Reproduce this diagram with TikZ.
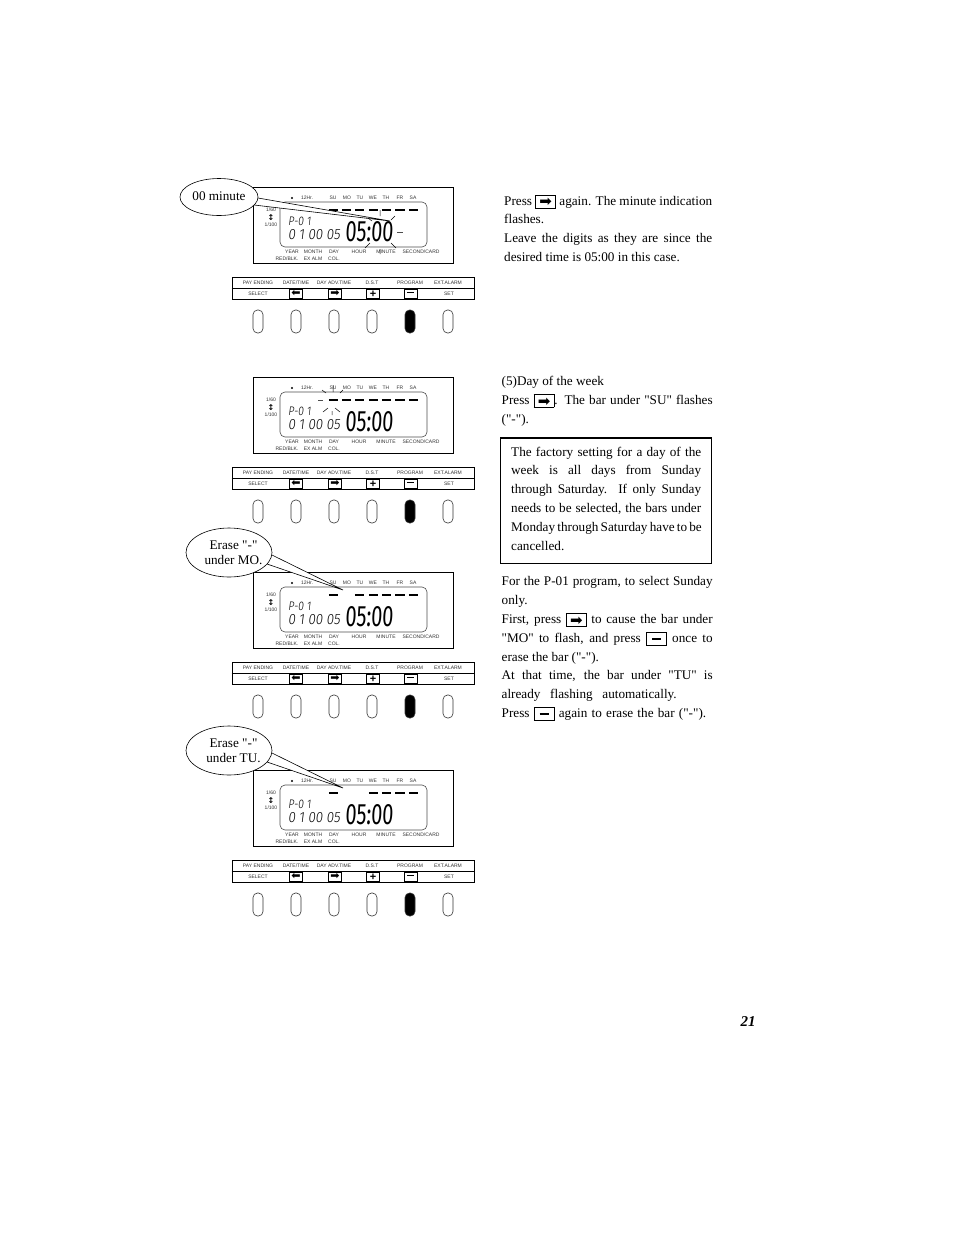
\documentclass[tikz,border=0pt]{standalone}
\usepackage{fontspec}
\usepackage{graphicx}
\usetikzlibrary{positioning}
\usetikzlibrary{shapes.geometric}
\newfontfamily\pagefont{Liberation Serif}
\newfontfamily\labelfont{Liberation Sans}
\newfontfamily\glyphfont{DejaVu Sans}
\newfontfamily\lcdfont{Fira Sans}[UprightFont=* Light,FakeSlant=0.14]
\newfontfamily\lcdbig{Fira Sans}[FakeSlant=0.08]
\tikzset{
	tinylabel/.style={inner sep=0,text=black!80,font=\labelfont\fontsize{5}{5}\selectfont},
	daybar/.style={line width=2.8pt},
	flashtick/.style={line width=.5pt},
	lcdbox/.style={draw,line width=.9pt,minimum width=200,minimum height=76.5,inner sep=0},
	lcdglass/.style={draw,black!70,line width=.6pt,rounded corners=5pt,minimum width=147,minimum height=45,inner sep=0},
	stripbox/.style={draw,line width=.9pt,minimum width=242,minimum height=22.5,inner sep=0},
	keybox/.style={draw,line width=1pt,minimum width=13,minimum height=9,inner sep=0,font=\glyphfont\fontsize{11}{11}\selectfont},
	pushkey/.style={draw,black!80,line width=.6pt,rounded corners=4.5pt,minimum width=10,minimum height=23,inner sep=0},
	bubble/.style={draw,ellipse,fill=white,line width=.6pt,inner sep=0},
	bubbletext/.style={inner sep=0,align=center,font=\pagefont\fontsize{13.2}{15}\selectfont},
	pagetext/.style={inner sep=0,align=justify,font=\pagefont\fontsize{13.2}{18.8}\selectfont},
}
\newcommand{\rightglyph}{\raisebox{.8pt}{\symbol{"27A1}}}
\newcommand{\leftglyph}{\raisebox{.8pt}{\symbol{"2B05}}}
\newcommand{\minusglyph}{\rule[5.3pt]{9pt}{1.5pt}}
\newcommand{\keytag}[1]{\raisebox{-2.6pt}{\setlength\fboxsep{0pt}\setlength\fboxrule{.9pt}\fbox{\makebox[19pt]{\rule{0pt}{12pt}\glyphfont\fontsize{15}{15}\selectfont #1}}}}
% one clock: top of the lcd frame, name, x of the bars that are lit
\newcommand{\clockpanel}[3]{
	\begin{scope}[shift={(0,#1)}]
		\node[lcdbox] (#2frame) at (353,38.3) {};
		\node[lcdglass] (#2glass) at (353.5,37.5) {};
		\fill (292,11) circle (1.1pt);
		\node[tinylabel] (#2hr) at (307,11) {12Hr.};
		\foreach \dx/\dn in {333/SU,347/MO,360/TU,373/WE,386/TH,400/FR,413/SA}
			\node[tinylabel] (#2\dn) at (\dx,11) {\dn};
		\foreach \bx in {#3}
			\draw[daybar] (\bx-4.6,23) -- (\bx+4.6,23);
		\node[tinylabel] (#2sixty) at (271,23) {1/60};
		\node[inner sep=0,font=\glyphfont\bfseries\fontsize{8}{8}\selectfont] (#2arrow) at (271,31) {\symbol{"2195}};
		\node[tinylabel] (#2hundred) at (271,38) {1/100};
		\node[inner sep=0] (#2prog) at (299.5,34) {\resizebox{23pt}{8.5pt}{\lcdfont P-0 1}};
		\node[inner sep=0] (#2date) at (314,48) {\resizebox{52pt}{10pt}{\lcdfont 0 1 00 05}};
		\node[inner sep=0] (#2time) at (369,45) {\resizebox{48pt}{20pt}{\lcdbig 05:00}};
		\foreach \lx/\ln in {292/YEAR,313/MONTH,334/DAY,359/HOUR,386/MINUTE,421/{SECOND/CARD}}
			\node[tinylabel] at (\lx,64.7) {\ln};
		\node[tinylabel] (#2red) at (287,71.5) {RED/BLK.};
		\node[tinylabel] (#2exalm) at (313,71.5) {EX ALM};
		\node[tinylabel] (#2col) at (334,71.5) {COL.};
		% key strip
		\node[stripbox] (#2strip) at (353,101.5) {};
		\draw[line width=.9pt] (#2strip.west) -- (#2strip.east);
		\foreach \kx/\kn in {258/PAY ENDING,296/{DATE/TIME},334/DAY ADV.TIME,372/D.S.T,410/PROGRAM,448/EXT.ALARM}
			\node[tinylabel] at (\kx,95.5) {\kn};
		\node[tinylabel] (#2select) at (258,106.5) {SELECT};
		\node[tinylabel] (#2set) at (449,106.5) {SET};
		\node[keybox] (#2left) at (296,107) {\leftglyph};
		\node[keybox] (#2right) at (335,107) {\rightglyph};
		\node[keybox,font=\labelfont\bfseries\fontsize{11}{11}\selectfont] (#2plus) at (373,107) {+};
		\node[keybox] (#2minus) at (410.5,107) {\rule[2.5pt]{7pt}{1pt}};
		% push keys
		\foreach \px in {258,296,334,372,448}
			\node[pushkey] at (\px,134.5) {};
		\node[pushkey,fill=black] (#2lit) at (410,134.5) {};
	\end{scope}
}

\begin{document}
\begin{tikzpicture}[x=1pt,y=-1pt]
	\useasboundingbox (0,0) rectangle (954,1235);

	\clockpanel{187}{a}{333.5,346.5,359.5,373.5,386.5,400,413.5}
	\clockpanel{377}{b}{333.5,346.5,359.5,373.5,386.5,400,413.5}
	\clockpanel{572}{c}{333.5,359.5,373.5,386.5,400,413.5}
	\clockpanel{770}{d}{333.5,373.5,386.5,400,413.5}

	% flashing marks
	\draw[flashtick] (368,218) -- (372,221) (380,210) -- (380,216) (391,220) -- (395,216)
		(365,248) -- (370,243) (380,249) -- (380,254) (391,243) -- (396,248);
	\draw[line width=.8pt,black!70] (397,232) -- (403,232);
	\draw[flashtick] (322,390) -- (326,393) (333,385) -- (333,392) (340,393) -- (343,390)
		(323,412) -- (328,408) (332,411) -- (332,415) (335,408) -- (340,412);
	\draw[line width=.8pt,black!70] (318,400) -- (323,400);

	% callouts
	\coordinate (aTip) at (390,221);
	\coordinate (cTip) at (343,590);
	\coordinate (dTip) at (343,788);
	\filldraw[fill=white,line width=.6pt] (258,198) -- (aTip) -- (254,205);
	\filldraw[fill=white,line width=.6pt] (272,555) -- (cTip) -- (267,564);
	\filldraw[fill=white,line width=.6pt] (272,753) -- (dTip) -- (267,762);
	\node[bubble,minimum width=78,minimum height=37] (aBubble) at (219,197) {};
	\node[bubble,minimum width=86,minimum height=49] (cBubble) at (229,552.5) {};
	\node[bubble,minimum width=86,minimum height=49] (dBubble) at (229,750.5) {};
	\node[bubbletext] (aLabel) at (219,196) {00 minute};
	\node[bubbletext] (cLabel) at (233.5,552.5) {Erase "-"\\under MO.};
	\node[bubbletext] (dLabel) at (233.5,750.5) {Erase "-"\\under TU.};

	% page text
	\node[pagetext,text width=208,anchor=north west] (pressAgain) at (504,194.5) {Press \keytag{\rightglyph} again.  The minute indication\linebreak
		flashes.\\
		Leave the digits as they are since the\linebreak
		desired time is 05:00 in this case.};
	\node[pagetext,text width=211,anchor=north west] (dayWeek) at (501.5,376) {(5)Day of the week\\
		Press \keytag{\rightglyph}. The bar under "SU" flashes\linebreak
		("-").};
	\node[draw,line width=.8pt,minimum width=211,minimum height=125,inner sep=0,anchor=north west] (notice) at (500,437.5) {};
	\draw[line width=1.8pt] (notice.north west) -- (notice.north east);
	\node[pagetext,text width=190,anchor=north west] (noticeText) at (511,446.5) {\makebox[190pt][s]{The factory setting for a day of the}\linebreak
		\makebox[190pt][s]{week is all days from Sunday}\linebreak
		\makebox[190pt][s]{through Saturday.  If only Sunday}\linebreak
		\makebox[190pt][s]{needs to be selected, the bars under}\linebreak
		\makebox[190pt][s]{Monday through Saturday have to be}\linebreak
		cancelled.};
	\node[pagetext,text width=211,anchor=north west] (firstPress) at (501.5,576.5) {For the P-01 program, to select Sunday\linebreak
		only.\\
		First, press \keytag{\rightglyph} to cause the bar under\linebreak
		"MO" to flash, and press \keytag{\minusglyph} once to\linebreak
		erase the bar ("-").\\
		At that time, the bar under "TU" is\linebreak
		\makebox[175pt][s]{already flashing automatically.}\\
		\makebox[204.5pt][s]{Press \keytag{\minusglyph} again to erase the bar ("-").}};
	\node[inner sep=0,font=\pagefont\bfseries\itshape\fontsize{15}{15}\selectfont] (pageNo) at (748,1022) {21};
\end{tikzpicture}
\end{document}
